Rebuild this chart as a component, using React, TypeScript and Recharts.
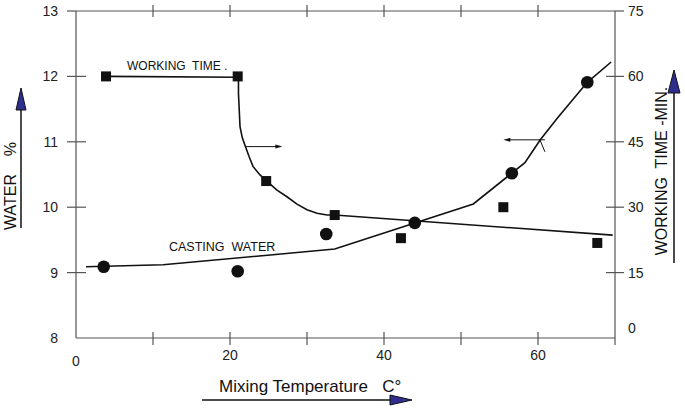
import React from "react";
import {
  ComposedChart,
  Line,
  ReferenceLine,
  Scatter,
  XAxis,
  YAxis,
} from "recharts";

const FONT = '"Liberation Sans", Arial, sans-serif';
const INK = "#111";
const AXIS = "#555";
const BLUE = "#2e2e8f";

// x axis: mixing temperature
const tempTicks = [0, 10, 20, 30, 40, 50, 60, 70];
const tempLabels = [0, 20, 40, 60];
// left axis: casting water %
const waterTicks = [8, 9, 10, 11, 12, 13];
// right axis: working time (min)
const minuteTicks = [0, 15, 30, 45, 60, 75];

// casting water measurements (circles)
const waterTemps = [3.6, 21.0, 32.5, 44.0, 56.6, 66.4];
const waterValues = [9.09, 9.02, 9.59, 9.76, 10.52, 11.91];

// casting water curve as drawn
const waterCurveTemps = [1.3, 11.3, 33.6, 51.6, 56.6, 58.3, 60.3, 62.5, 66.4, 69.5];
const waterCurveValues = [9.09, 9.12, 9.36, 10.05, 10.52, 10.68, 11.03, 11.36, 11.91, 12.22];

// working time measurements (squares)
const timeTemps = [3.9, 21.0, 24.7, 33.6, 42.2, 55.5, 67.7];
const timeValues = [60, 60, 36, 28.2, 22.9, 30, 21.8];

// working time curve as drawn
const timeCurveTemps = [
  3.9, 21.1, 21.1, 21.2, 21.3, 21.6, 22.0, 22.5, 23.0, 23.9, 24.7, 26.1, 27.4,
  28.7, 30.0, 31.3, 32.6, 33.6, 69.7,
];
const timeCurveValues = [
  60, 59.8, 56.1, 52.3, 48.5, 45.9, 43.9, 41.5, 39.3, 37.4, 36.1, 33.9, 32.4,
  30.7, 29.4, 28.6, 28.2, 28.2, 23.6,
];

const zip = (xs: number[], ys: number[]) => xs.map((x, i) => ({ x, y: ys[i] }));

const waterPoints = zip(waterTemps, waterValues);
const waterCurve = zip(waterCurveTemps, waterCurveValues);
const timePoints = zip(timeTemps, timeValues);
const timeCurve = zip(timeCurveTemps, timeCurveValues);

const labelStyle = { fontFamily: FONT, fontSize: 14, fill: "#222" };

function BottomTick({ x, y, payload }: any) {
  const v = payload.value;
  return (
    <g>
      {v > 0 && v < 70 && (
        <line x1={x} x2={x} y1={y - 6} y2={y + 7} stroke={AXIS} strokeWidth={1.2} />
      )}
      {tempLabels.includes(v) && (
        <text x={x} y={v === 0 ? y + 23 : y + 17} dy="0.35em" textAnchor="middle" {...labelStyle}>
          {v}
        </text>
      )}
    </g>
  );
}

function TopTick({ x, y, payload }: any) {
  const v = payload.value;
  if (v <= 0 || v >= 70) return <g />;
  return <line x1={x} x2={x} y1={y - 6} y2={y + 6} stroke={AXIS} strokeWidth={1.2} />;
}

function LeftTick({ x, y, payload }: any) {
  const v = payload.value;
  return (
    <g>
      {v > 8 && v < 13 && (
        <line x1={x - 9} x2={x + 10} y1={y} y2={y} stroke={AXIS} strokeWidth={1.2} />
      )}
      {v === 13 && <line x1={x - 9} x2={x} y1={y} y2={y} stroke={AXIS} strokeWidth={1.2} />}
      <text x={x - 18} y={y} dy="0.35em" textAnchor="end" {...labelStyle}>
        {v}
      </text>
    </g>
  );
}

function RightTick({ x, y, payload }: any) {
  const v = payload.value;
  return (
    <g>
      {v > 0 && v < 75 && (
        <line x1={x - 9} x2={x + 9} y1={y} y2={y} stroke={AXIS} strokeWidth={1.2} />
      )}
      {v === 75 && <line x1={x} x2={x + 9} y1={y} y2={y} stroke={AXIS} strokeWidth={1.2} />}
      {v === 0 && <line x1={x} x2={x} y1={y} y2={y + 7} stroke={AXIS} strokeWidth={1.2} />}
      <text x={x + 13} y={v === 0 ? y - 10 : y} dy="0.35em" textAnchor="start" {...labelStyle}>
        {v}
      </text>
    </g>
  );
}

const square = ({ cx, cy }: any) => (
  <rect x={cx - 5} y={cy - 5} width={10} height={10} fill={INK} />
);
const circle = ({ cx, cy }: any) => <circle cx={cx} cy={cy} r={6.3} fill={INK} />;

// arrow pointing right towards the working-time axis
const rightArrow = ({ x1, y1, x2, y2 }: any) => (
  <g>
    <line x1={x1} y1={y1} x2={x2 - 5} y2={y2} stroke={INK} strokeWidth={1} />
    <polygon points={`${x2},${y2} ${x2 - 7},${y2 - 2} ${x2 - 7},${y2 + 2}`} fill={INK} />
  </g>
);

// arrow pointing left towards the water axis, with a small mark on the curve
const leftArrow = ({ x1, y1, x2, y2 }: any) => (
  <g>
    <line x1={x1} y1={y1} x2={x2 + 5} y2={y2} stroke={INK} strokeWidth={1} />
    <polygon points={`${x2},${y2} ${x2 + 7},${y2 - 2} ${x2 + 7},${y2 + 2}`} fill={INK} />
    <line x1={x1 - 5} y1={y1} x2={x1} y2={y1 + 12} stroke={INK} strokeWidth={1} />
  </g>
);

function Overlay() {
  const title = { fontFamily: FONT, fill: "#111" };
  return (
    <svg
      width={685}
      height={409}
      style={{ position: "absolute", left: 0, top: 0, pointerEvents: "none" }}
    >
      {/* left axis title */}
      <text
        transform="translate(16,186) rotate(-90)"
        textAnchor="middle"
        fontSize={16}
        style={{ whiteSpace: "pre" }}
        {...title}
      >
        {"WATER    %"}
      </text>
      <line x1={21} y1={100} x2={21} y2={228} stroke={INK} strokeWidth={1.5} />
      <polygon points="21,88 16,110 26,110" fill={BLUE} stroke={INK} strokeWidth={1} />

      {/* right axis title */}
      <text
        transform="translate(667,171) rotate(-90)"
        textAnchor="middle"
        fontSize={16}
        style={{ whiteSpace: "pre" }}
        {...title}
      >
        {"WORKING  TIME -MIN."}
      </text>
      <line x1={674} y1={85} x2={674} y2={263} stroke={INK} strokeWidth={1.5} />
      <polygon points="674,70 668,93 680,93" fill={BLUE} stroke={INK} strokeWidth={1} />

      {/* x axis title */}
      <text x={219} y={392} fontSize={17} style={{ whiteSpace: "pre" }} {...title}>
        {"Mixing Temperature   C°"}
      </text>
      <line x1={202} y1={400} x2={395} y2={400} stroke={INK} strokeWidth={1.5} />
      <polygon points="412,400 390,395 390,405" fill={BLUE} stroke={INK} strokeWidth={1} />

      {/* curve labels */}
      <text x={127} y={70} fontSize={12} style={{ whiteSpace: "pre" }} {...title}>
        {"WORKING  TIME ."}
      </text>
      <text x={169} y={250.5} fontSize={12.5} style={{ whiteSpace: "pre" }} {...title}>
        {"CASTING  WATER"}
      </text>
    </svg>
  );
}

const axisLine = { stroke: AXIS, strokeWidth: 1.2 };

export default function App() {
  return (
    <div style={{ position: "absolute", left: 0, top: 0, width: 685, height: 409, background: "#fff" }}>
      <ComposedChart
        width={685}
        height={409}
        margin={{ top: 10, right: 69, bottom: 70, left: 75 }}
      >
        <XAxis
          xAxisId="b"
          dataKey="x"
          type="number"
          domain={[0, 70]}
          ticks={tempTicks}
          interval={0}
          height={1}
          tickSize={0}
          tickMargin={0}
          tickLine={false}
          axisLine={axisLine}
          tick={<BottomTick />}
          allowDataOverflow
        />
        <XAxis
          xAxisId="t"
          dataKey="x"
          orientation="top"
          type="number"
          domain={[0, 70]}
          ticks={tempTicks}
          interval={0}
          height={1}
          tickSize={0}
          tickMargin={0}
          tickLine={false}
          axisLine={axisLine}
          tick={<TopTick />}
          allowDataOverflow
        />
        <YAxis
          yAxisId="w"
          type="number"
          domain={[8, 13]}
          ticks={waterTicks}
          interval={0}
          width={1}
          tickSize={0}
          tickMargin={0}
          tickLine={false}
          axisLine={axisLine}
          tick={<LeftTick />}
          allowDataOverflow
        />
        <YAxis
          yAxisId="t"
          orientation="right"
          type="number"
          domain={[0, 75]}
          ticks={minuteTicks}
          interval={0}
          width={1}
          tickSize={0}
          tickMargin={0}
          tickLine={false}
          axisLine={axisLine}
          tick={<RightTick />}
          allowDataOverflow
        />

        <Line
          xAxisId="b"
          yAxisId="w"
          data={waterCurve}
          dataKey="y"
          type="linear"
          stroke={INK}
          strokeWidth={1.6}
          dot={false}
          activeDot={false}
          isAnimationActive={false}
        />
        <Line
          xAxisId="b"
          yAxisId="t"
          data={timeCurve}
          dataKey="y"
          type="linear"
          stroke={INK}
          strokeWidth={1.6}
          dot={false}
          activeDot={false}
          isAnimationActive={false}
        />
        <Scatter
          xAxisId="b"
          yAxisId="w"
          data={waterPoints}
          dataKey="y"
          shape={circle}
          isAnimationActive={false}
        />
        <Scatter
          xAxisId="b"
          yAxisId="t"
          data={timePoints}
          dataKey="y"
          shape={square}
          isAnimationActive={false}
        />

        <ReferenceLine
          xAxisId="b"
          yAxisId="t"
          segment={[
            { x: 22.0, y: 43.9 },
            { x: 26.8, y: 43.9 },
          ]}
          shape={rightArrow}
          ifOverflow="visible"
        />
        <ReferenceLine
          xAxisId="b"
          yAxisId="w"
          segment={[
            { x: 60.9, y: 11.03 },
            { x: 55.5, y: 11.03 },
          ]}
          shape={leftArrow}
          ifOverflow="visible"
        />
      </ComposedChart>
      <Overlay />
    </div>
  );
}
